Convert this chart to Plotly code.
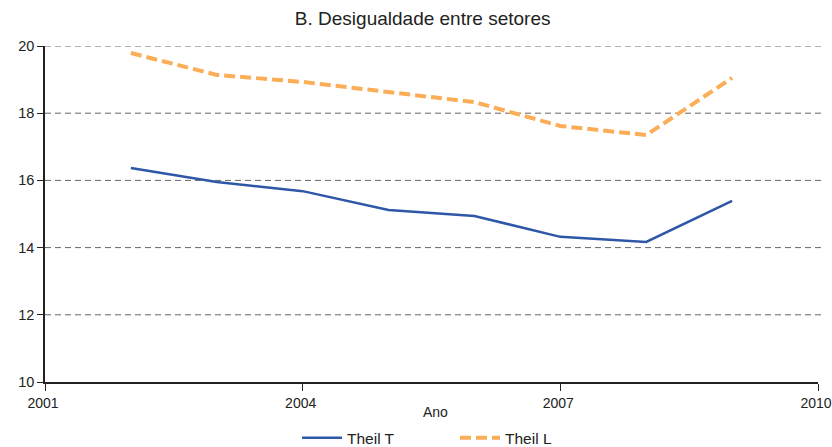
import plotly.graph_objects as go

# Inequality between sectors, Theil indices by year
anos = [2002, 2003, 2004, 2005, 2006, 2007, 2008, 2009]
theil_t = [16.37, 15.95, 15.68, 15.12, 14.94, 14.32, 14.17, 15.39]
theil_l = [19.79, 19.14, 18.93, 18.63, 18.33, 17.62, 17.35, 19.05]

x_ticks = [2001, 2004, 2007, 2010]
y_ticks = [10, 12, 14, 16, 18, 20]

FONT = "Liberation Sans, Arial, sans-serif"
INK = "#222222"

fig = go.Figure()
fig.add_trace(go.Scatter(
    x=anos, y=theil_t, mode="lines", name="Theil T",
    line=dict(color="#2f57a8", width=2.5),
))
fig.add_trace(go.Scatter(
    x=anos, y=theil_l, mode="lines", name="Theil L",
    line=dict(color="#fbae57", width=4, dash="11px,5px"),
))

# dashed horizontal guides at each y tick above the baseline, running a bit past the plot edge
grid_shapes = [
    dict(type="line", xref="paper", yref="y", x0=0, x1=1.005, y0=v, y1=v,
         line=dict(color="#666666", width=1, dash="6px,4px"), layer="below")
    for v in y_ticks[1:]
]

fig.update_layout(
    width=832, height=447,
    margin=dict(l=45, r=14, t=46, b=65, autoexpand=False),
    paper_bgcolor="white", plot_bgcolor="white",
    font=dict(family=FONT, size=14, color=INK),
    title=dict(text="B. Desigualdade entre setores", x=0.508, xanchor="center",
               y=1 - 18 / 447, yanchor="middle", font=dict(family=FONT, size=19, color=INK)),
    showlegend=True,
    legend=dict(orientation="h", x=0.326, xanchor="left", y=-0.167, yanchor="middle",
                font=dict(family=FONT, size=15.5, color=INK),
                itemwidth=40, entrywidth=103, entrywidthmode="pixels",
                bgcolor="rgba(0,0,0,0)"),
    xaxis=dict(range=[2001, 2010], tickvals=x_ticks, ticktext=[str(v) for v in x_ticks],
               showgrid=False, zeroline=False, showline=True, linecolor=INK,
               linewidth=1.5, ticks="outside", ticklen=7, tickcolor=INK,
               tickwidth=1.2, tickfont=dict(size=14), ticklabelshift=-2,
               ticklabeloverflow="allow"),
    yaxis=dict(range=[10, 20], tickvals=y_ticks, ticktext=[str(v) for v in y_ticks],
               showgrid=False, zeroline=False, showline=True, linecolor=INK, linewidth=1.5,
               ticks="outside", ticklen=6, tickcolor=INK, tickwidth=1.2,
               tickfont=dict(size=14.5), ticklabeloverflow="allow"),
    shapes=grid_shapes,
    annotations=[dict(text="Ano", x=0.505, xref="paper", y=-(412 - 382) / 336, yref="paper",
                      yanchor="middle", showarrow=False,
                      font=dict(family=FONT, size=14, color=INK))],
)

fig.write_html("out.html")
